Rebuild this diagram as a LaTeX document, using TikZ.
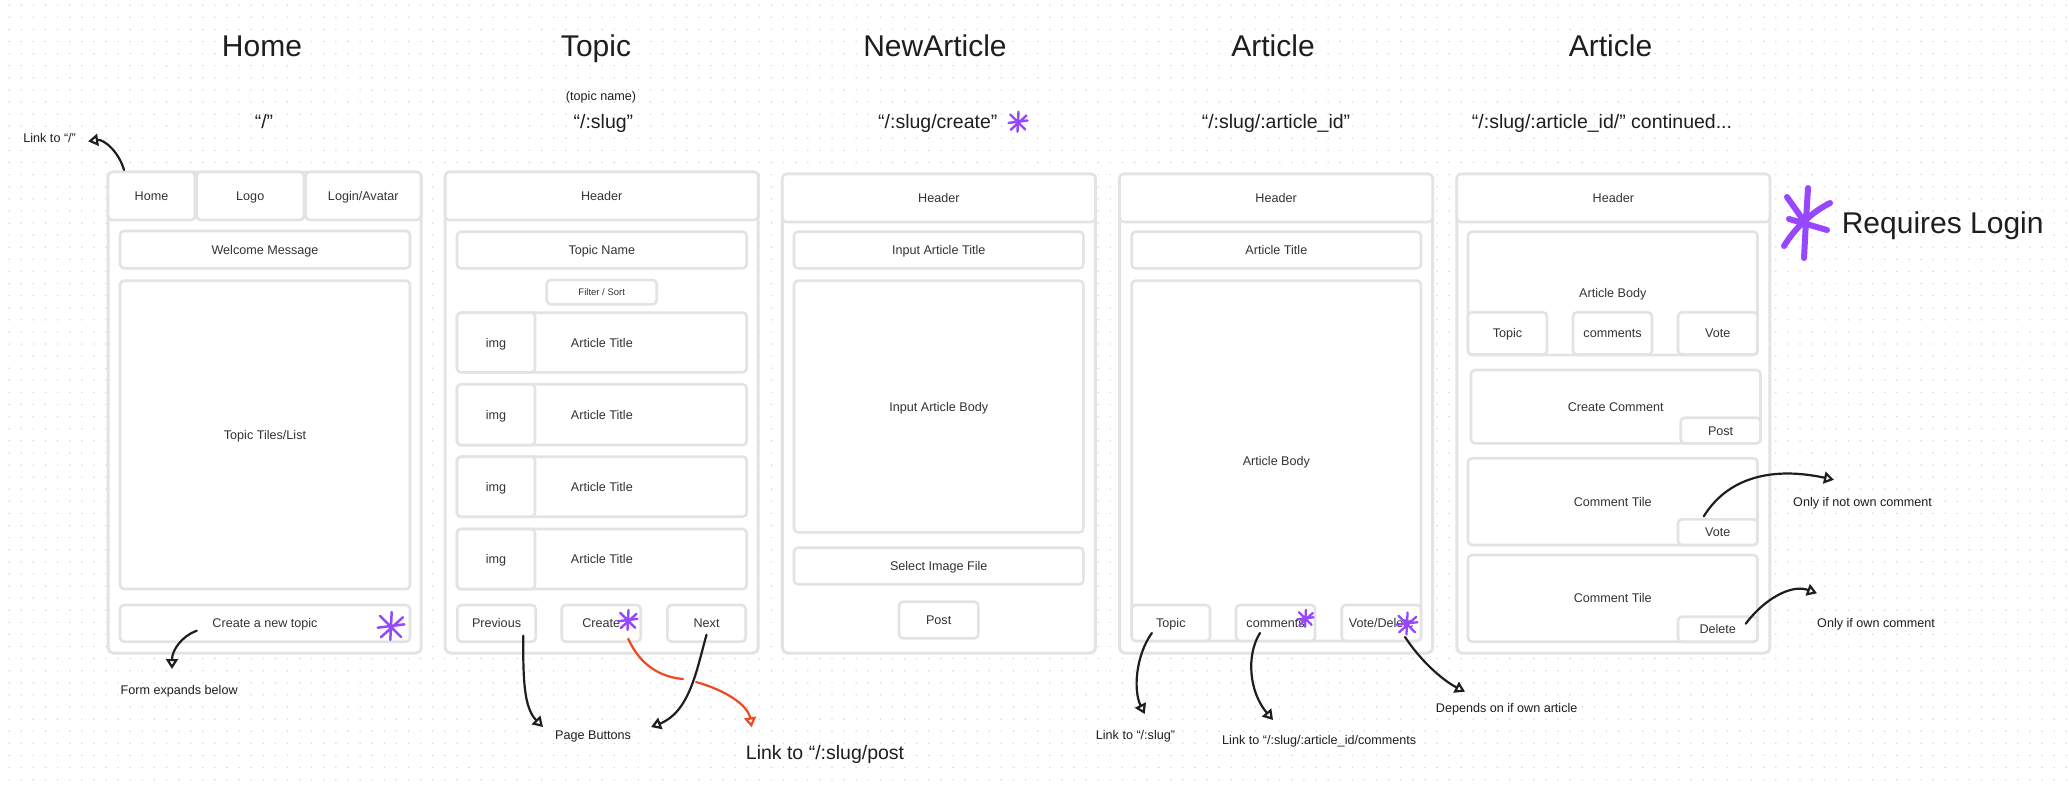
\documentclass[tikz,border=0pt]{standalone}
\usepackage{fontspec}
\setmainfont{Liberation Sans}
\usetikzlibrary{arrows.meta,calc}

\definecolor{ink}{HTML}{1E1E1E}
\definecolor{uitext}{HTML}{333333}
\definecolor{edge}{HTML}{E3E3E3}
\definecolor{dotc}{HTML}{D6D6D6}
\definecolor{loginpurple}{HTML}{9747FF}
\definecolor{linkred}{HTML}{F24822}

\newcommand\uifont{\fontsize{12.6}{15}\selectfont}
\newcommand\routefont{\fontsize{19.5}{23}\selectfont}
\newcommand\titlefont{\fontsize{30}{36}\selectfont}
\newcommand\tinyfont{\fontsize{9.5}{11}\selectfont}

\tikzset{
  box/.style={draw=edge, line width=2.6pt, rounded corners=4pt, fill=white,
    inner sep=0pt, outer sep=0pt, font=\uifont, text=uitext,
    text height=9pt, text depth=0pt},
  frame/.style={box, line width=3pt, rounded corners=5pt},
  title/.style={font=\titlefont, text=ink, inner sep=0pt, text height=21.5pt, text depth=0pt},
  route/.style={font=\routefont, text=ink, inner sep=0pt, text height=14pt, text depth=0pt},
  note/.style={font=\uifont, text=ink, inner sep=0pt, text height=9pt, text depth=0pt},
  hand/.style={draw=ink, line width=2.2pt, line cap=round, line join=round,
    -{Triangle[open,length=10pt,width=12pt]}},
  redhand/.style={hand, draw=linkred},
  loginstar/.pic={
    \draw[line cap=round] (0.05,-1) -- (-0.05,1)
      (-0.78,-0.72) -- (0.72,0.78)
      (0.85,-0.62) -- (-0.72,0.8)
      (-0.95,0.12) -- (0.95,-0.12);
  }
}

% box from (x1,y1) to (x2,y2), y measured downwards
\newcommand\uibox[7][]{%
  \node[box,#1,minimum width={#5-#3},minimum height={#6-#4}] (#2)
    at ({(#3+#5)/2},{(#4+#6)/2}) {#7};}

\begin{document}
\begin{tikzpicture}[x=1pt,y=-1pt]
\useasboundingbox (0,0) rectangle (2069,788);
\fill[white] (0,0) rectangle (2069,788);

% dot grid
\foreach \r in {0,...,65}{
  \draw[dotc, line width=1.6pt, line cap=round, dash pattern=on 0pt off 12.1pt]
    (9.2,{5.2+\r*12.1}) -- (2069,{5.2+\r*12.1});
}

% page titles and routes
\node[title] (tHome)    at (262,46)    {Home};
\node[title] (tTopic)   at (596,46)    {Topic};
\node[title] (tNew)     at (935,46)    {NewArticle};
\node[title] (tArt)     at (1273,46)   {Article};
\node[title] (tArtMore) at (1610.5,46) {Article};

\node[note]  (rTopicName) at (601,96) {(topic name)};
\node[route] (rHome)    at (264,121.7)    {“/”};
\node[route] (rTopic)   at (603.4,121.7)  {“/:slug”};
\node[route] (rNew)     at (937.8,121.7)  {“/:slug/create”};
\node[route] (rArt)     at (1276,121.7)   {“/:slug/:article\_id”};
\node[route] (rArtMore) at (1602,121.7)   {“/:slug/:article\_id/” continued...};
\pic[loginpurple, line width=2.4pt, scale=10] at (1018,121.7) {loginstar};

% ---------- Home ----------
\uibox[frame]{home}{108}{172}{421}{653}{}
\uibox{homeNav}{108}{172}{195}{220}{Home}
\uibox{homeLogo}{196.5}{172}{304}{220}{Logo}
\uibox{homeLogin}{305.5}{172}{421}{220}{Login/Avatar}
\uibox{homeWelcome}{120}{231}{410}{268.3}{Welcome Message}
\uibox{homeTiles}{120}{280.7}{410}{589}{Topic Tiles/List}
\uibox{homeCreate}{120}{605}{410}{641.7}{Create a new topic}
\pic[loginpurple, line width=2.5pt, scale=14] at (391,626) {loginstar};

% ---------- Topic ----------
\uibox[frame]{topic}{445.2}{172}{758.2}{653}{}
\uibox{topicHead}{445.2}{172}{758.2}{220}{Header}
\uibox{topicName}{457}{231.7}{746.7}{268.3}{Topic Name}
\uibox[font=\tinyfont, text height=6.8pt]{topicFilter}{546.7}{280}{656.7}{304.3}{Filter / Sort}
\uibox{rowA}{457}{312.7}{746.7}{372.3}{Article Title}
\uibox{imgA}{457}{312.7}{535}{372.3}{img}
\uibox{rowB}{457}{384.3}{746.7}{445}{Article Title}
\uibox{imgB}{457}{384.3}{535}{445}{img}
\uibox{rowC}{457}{456.7}{746.7}{516.7}{Article Title}
\uibox{imgC}{457}{456.7}{535}{516.7}{img}
\uibox{rowD}{457}{529}{746.7}{589}{Article Title}
\uibox{imgD}{457}{529}{535}{589}{img}
\uibox{topicPrev}{457.4}{605}{535.7}{641.7}{Previous}
\uibox{topicCreate}{561.7}{605}{640.7}{641.7}{Create}
\uibox{topicNext}{667.4}{605}{745.7}{641.7}{Next}
\pic[loginpurple, line width=2.4pt, scale=10] at (628,620) {loginstar};

% ---------- NewArticle ----------
\uibox[frame]{newart}{782.4}{174}{1095.4}{653}{}
\uibox{newHead}{782.4}{174}{1095.4}{222}{Header}
\uibox{newTitle}{794}{231.7}{1083.4}{268.3}{Input Article Title}
\uibox{newBody}{794}{280.7}{1083.4}{532.3}{Input Article Body}
\uibox{newImage}{794}{547.7}{1083.4}{584.3}{Select Image File}
\uibox{newPost}{899}{601.7}{978.3}{638.3}{Post}

% ---------- Article ----------
\uibox[frame]{article}{1119.6}{174}{1432.6}{653}{}
\uibox{artHead}{1119.6}{174}{1432.6}{222}{Header}
\uibox{artTitle}{1131.7}{231.7}{1421}{268.3}{Article Title}
\uibox{artBody}{1131.7}{280.7}{1421}{641}{Article Body}
\uibox{artTopic}{1131.7}{605}{1210}{641}{Topic}
\uibox{artComments}{1236}{605}{1315}{641}{comments}
\uibox{artVote}{1341.7}{605}{1421}{641}{Vote/Delete}
\pic[loginpurple, line width=2.3pt, scale=8.5] at (1305.5,618.3) {loginstar};
\pic[loginpurple, line width=2.3pt, scale=11] at (1407,623.5) {loginstar};

% ---------- Article, continued ----------
\uibox[frame]{artmore}{1456.8}{174}{1769.8}{653}{}
\uibox{moreHead}{1456.8}{174}{1769.8}{222}{Header}
\uibox{moreBody}{1468}{231.7}{1757.5}{355}{Article Body}
\uibox{moreTopic}{1468}{312.3}{1547}{354.5}{Topic}
\uibox{moreComments}{1573}{312.3}{1652}{354.5}{comments}
\uibox{moreVote}{1678}{312.3}{1757.5}{354.5}{Vote}
\uibox{createComment}{1471}{370}{1760.5}{443.3}{Create Comment}
\uibox{commentPost}{1680.7}{417.7}{1760.5}{443.3}{Post}
\uibox{tileA}{1468}{458.3}{1757.5}{545}{Comment Tile}
\uibox{cVote}{1678}{519.3}{1757.5}{545}{Vote}
\uibox{tileB}{1468}{555}{1757.5}{641.7}{Comment Tile}
\uibox{cDelete}{1678}{616.7}{1757.5}{641.7}{Delete}

% ---------- legend ----------
\draw[loginpurple, line width=6pt, line cap=round]
  (1808,188) .. controls (1806,220) .. (1804,258)
  (1787,197) -- (1806,224)
  (1830,203) .. controls (1812,212) and (1795,228) .. (1784,246)
  (1789,219) -- (1827,230);
\node[title, anchor=west] (nLogin) at (1841.6,222.7) {Requires Login};

% ---------- annotations ----------
\node[note, anchor=west] (nLinkHome) at (23.2,138.3)  {Link to “/”};
\node[note, anchor=west] (nForm)     at (120.5,690)   {Form expands below};
\node[note, anchor=west] (nPage)     at (555,735)     {Page Buttons};
\node[route, text=ink, anchor=west] (nPost) at (745.7,752.3) {Link to “/:slug/post};
\node[note, anchor=west] (nSlug)     at (1095.7,735)  {Link to “/:slug”};
\node[note, anchor=west] (nComments) at (1222,740)    {Link to “/:slug/:article\_id/comments};
\node[note, anchor=west] (nDepends)  at (1435.7,708.3) {Depends on if own article};
\node[note, anchor=west] (nNotOwn)   at (1793,501.7)  {Only if not own comment};
\node[note, anchor=west] (nOwn)      at (1817,623.3)  {Only if own comment};

\draw[hand] ($(home.north west)+(16,-2)$) .. controls (119,152) and (104,139) .. ($(nLinkHome.east)+(12,3)$);
\draw[hand] ($(homeCreate.south)+(-68.3,-11)$) .. controls (182,636) and (172,650) .. ($(nForm.west)+(51.5,-21)$);
\draw[hand] ($(topicPrev.south)+(26.7,-6)$) .. controls (523,680) and (524,708) .. ($(nPage.west)+(-12,-8)$);
\draw[hand] ($(topicNext.south)+(0,-7)$) .. controls (697,668) and (690,712) .. ($(nPage.east)+(20,-8)$);

\coordinate (redA) at (683,679);
\coordinate (redB) at (696,682);
\draw[draw=linkred, line width=2.2pt, line cap=round] ($(topicCreate.south)+(27,-3)$) .. controls (640,665) and (660,677) .. (redA);
\draw[redhand] (redB) .. controls (725,690) and (748,705) .. ($(nPost.west)+(6,-25)$);

\draw[hand] ($(artTopic.south)+(-19,-8)$) .. controls (1136,655) and (1133,690) .. ($(nSlug.west)+(49,-21)$);
\draw[hand] ($(artComments.south)+(-15.5,-8)$) .. controls (1246,655) and (1249,692) .. ($(nComments.west)+(51,-20)$);
\draw[hand] ($(artVote.south)+(23.7,-4)$) .. controls (1420,660) and (1442,680) .. ($(nDepends.west)+(29.3,-16.6)$);
\draw[hand] ($(cVote.north)+(-14,-3)$) .. controls (1725,482) and (1765,465) .. ($(nNotOwn.west)+(41,-22)$);
\draw[hand] ($(cDelete.north)+(28,7)$) .. controls (1765,598) and (1792,584) .. ($(nOwn.west)+(0,-30)$);

\end{tikzpicture}
\end{document}
